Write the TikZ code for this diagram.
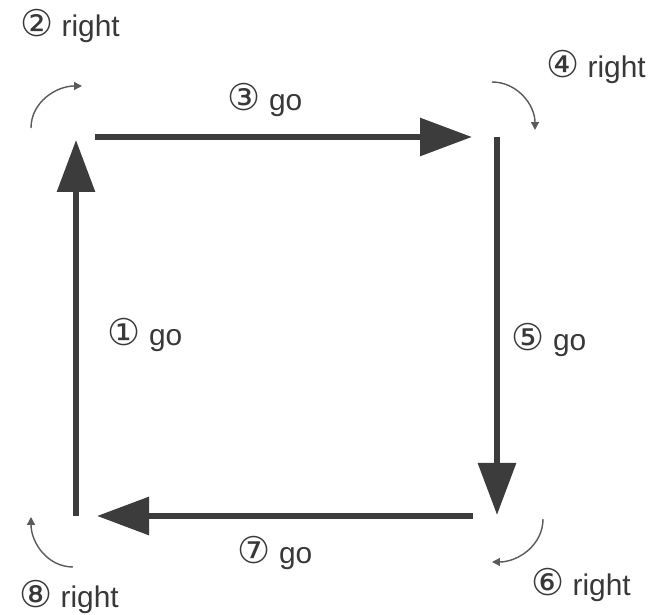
\documentclass[tikz,border=0pt]{standalone}
\usepackage{fontspec}
\setmainfont{Liberation Sans}
\newfontfamily\circfont{DejaVu Sans}
\usepackage{xcolor}
\usepackage{tikz}
\usetikzlibrary{arrows.meta}

\definecolor{inkdark}{HTML}{3C3C3C}
\definecolor{inkgray}{HTML}{5A5A5A}
\definecolor{txtgray}{HTML}{383838}

\newcommand{\cnum}[1]{{\circfont\fontsize{21}{20}\selectfont #1}}

\begin{document}
\begin{tikzpicture}[
  goarr/.style={-{Triangle[length=1.04cm,width=0.74cm]}, line width=3.4pt, draw=inkdark},
  turnarr/.style={-{Triangle[length=4.5pt,width=4.5pt]}, line width=0.8pt, draw=inkgray},
  lbl/.style={font=\fontsize{17}{20}\selectfont, text=txtgray, inner sep=0pt}
]
\useasboundingbox (0,0) rectangle (13.1,12.3);

%% Corners of the square
\coordinate (tl) at (1.52, 9.56);
\coordinate (tr) at (9.94, 9.56);
\coordinate (br) at (9.94, 1.98);
\coordinate (bl) at (1.52, 1.98);

%% Go arrows
\draw[goarr, shorten >=0.06cm] (bl) -- (tl);
\draw[goarr, shorten <=0.38cm, shorten >=0.50cm] (tl) -- (tr);
\draw[goarr, shorten >=0.02cm] (tr) -- (br);
\draw[goarr, shorten <=0.48cm, shorten >=0.42cm] (br) -- (bl);

%% Turn arrows at the corners
\coordinate (t2a) at (0.62, 9.74);  \coordinate (t2b) at (1.64, 10.58);
\coordinate (t4a) at (9.84, 10.66); \coordinate (t4b) at (10.70, 9.70);
\coordinate (t6a) at (10.86, 1.92); \coordinate (t6b) at (9.84, 1.06);
\coordinate (t8a) at (1.46, 0.96);  \coordinate (t8b) at (0.62, 1.96);
\draw[turnarr] (t2a) to[out=90, in=180] (t2b);
\draw[turnarr] (t4a) to[out=0, in=90] (t4b);
\draw[turnarr] (t6a) to[out=-90, in=0] (t6b);
\draw[turnarr] (t8a) to[out=180, in=-90] (t8b);

%% Labels
\node[lbl] (l1) at (2.90, 5.60)  {\cnum{①} go};
\node[lbl] (l2) at (1.40, 11.78) {\cnum{②} right};
\node[lbl] (l3) at (5.30, 10.30) {\cnum{③} go};
\node[lbl] (l4) at (11.92, 10.96) {\cnum{④} right};
\node[lbl] (l5) at (10.98, 5.50) {\cnum{⑤} go};
\node[lbl] (l6) at (11.62, 0.60) {\cnum{⑥} right};
\node[lbl] (l7) at (5.50, 1.24)  {\cnum{⑦} go};
\node[lbl] (l8) at (1.38, 0.36)  {\cnum{⑧} right};

\end{tikzpicture}
\end{document}
